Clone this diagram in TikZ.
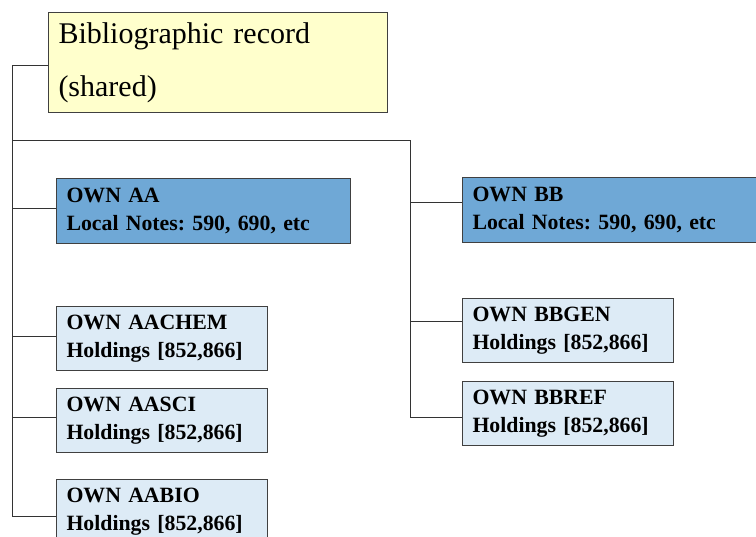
\documentclass[tikz,border=0pt]{standalone}
\usepackage{fontspec}
\setmainfont{Liberation Serif}
\usetikzlibrary{positioning}
\frenchspacing

\definecolor{bibyellow}{RGB}{255,255,204}
\definecolor{ownblue}{RGB}{111,168,214}
\definecolor{holdblue}{RGB}{221,235,246}
\definecolor{boxline}{RGB}{64,64,64}

\tikzset{
  bibbox/.style={draw=boxline, line width=1pt, fill=bibyellow, anchor=north west,
    minimum height=100pt, text width=319pt, inner xsep=10pt, align=left,
    font=\fontsize{30}{53}\selectfont},
  ownbox/.style={draw=boxline, line width=1pt, fill=ownblue, anchor=north west,
    minimum height=65pt, text width=274pt, inner xsep=10pt, align=left,
    font=\bfseries\fontsize{21.8}{28}\selectfont},
  holdbox/.style={ownbox, fill=holdblue, minimum height=64pt, text width=191pt},
  link/.style={black!80, line width=0.9pt}
}

\begin{document}
\begin{tikzpicture}[x=1pt, y=-1pt]
                \useasboundingbox (0,0) rectangle (756,537);
                \clip (0,0) rectangle (756,537);

                % boxes
                \node[bibbox] (bib) at (48,12) {Bibliographic record\\(shared)};
                \node[ownbox] (aa) at (56,178) {OWN AA\\Local Notes: 590, 690, etc};
                \node[ownbox] (bb) at (462,177) {OWN BB\\Local Notes: 590, 690, etc};
                \node[holdbox] (aachem) at (56,306) {OWN AACHEM\\Holdings [852,866]};
                \node[holdbox] (aasci) at (56,388) {OWN AASCI\\Holdings [852,866]};
                \node[holdbox] (aabio) at (56,479) {OWN AABIO\\Holdings [852,866]};
                \node[holdbox] (bbgen) at (462,298) {OWN BBGEN\\Holdings [852,866]};
                \node[holdbox] (bbref) at (462,381) {OWN BBREF\\Holdings [852,866]};

                % entry points of the connectors
                \coordinate (bib-out) at ([yshift=-3pt]bib.west);
                \coordinate (aa-in) at ([yshift=3pt]aa.west);
                \coordinate (aachem-in) at ([yshift=2pt]aachem.west);
                \coordinate (aasci-in) at ([yshift=3pt]aasci.west);
                \coordinate (aabio-in) at ([yshift=-5pt]aabio.west);
                \coordinate (bb-in) at ([yshift=8pt]bb.west);
                \coordinate (bbgen-in) at ([yshift=9pt]bbgen.west);
                \coordinate (bbref-in) at ([yshift=-4pt]bbref.west);

                % spines
                \coordinate (spineA) at (12,0);
                \coordinate (fork) at (410,140);

                \draw[link] (bib-out) -| (spineA |- aabio-in) -- (aabio-in);
                \draw[link] (spineA |- fork) -- (fork) |- (bbref-in);
                \draw[link] (spineA |- aa-in) -- (aa-in);
                \draw[link] (spineA |- aachem-in) -- (aachem-in);
                \draw[link] (spineA |- aasci-in) -- (aasci-in);
                \draw[link] (fork |- bb-in) -- (bb-in);
                \draw[link] (fork |- bbgen-in) -- (bbgen-in);
            \end{tikzpicture}
\end{document}
